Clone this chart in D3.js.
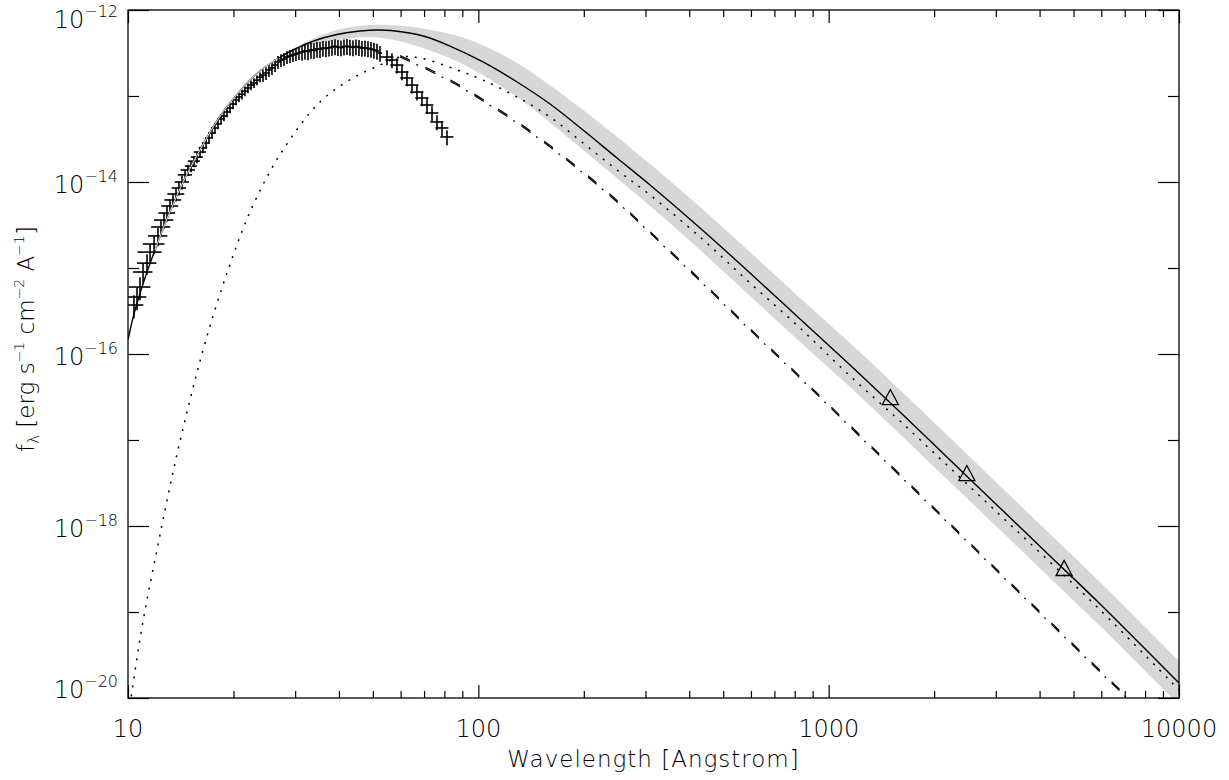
<!DOCTYPE html>
<html>
<head>
<meta charset="utf-8">
<script src="https://cdn.jsdelivr.net/npm/d3@7"></script>
<style>
body { margin: 0; background: #fff; }
svg text { font-family: "DejaVu Sans", sans-serif; font-weight: 200; fill: #000; }
</style>
</head>
<body>
<svg id="chart"></svg>
<script>
var screen = {width: 1229, height: 780}
var margins = {top: 10, right: 50, bottom: 82, left: 128}

// X-ray spectrum points (crosses): wavelength [A], flux, half bin width [A], relative error
var xrtWave = [10.40, 10.61, 10.82, 11.04, 11.33, 11.56, 11.87, 12.18, 12.42, 12.67, 12.92, 13.18, 13.44, 13.71, 13.98, 14.26, 14.55, 14.83, 15.13, 15.43, 15.74, 16.05,
    16.37, 16.70, 17.03, 17.37, 17.71, 18.07, 18.43, 18.79, 19.17, 19.55, 19.94, 20.34, 20.74, 21.15, 21.57, 22.00, 22.44, 22.89, 23.34, 23.81,
    24.28, 24.77, 25.26, 25.76, 26.28, 26.80, 27.33, 27.88, 28.43, 29.00, 29.58, 30.16, 30.76,
    31.38, 32.00, 32.64, 33.29, 33.95, 34.63, 35.32, 36.02, 36.74, 37.47, 38.22, 38.98, 39.75, 40.54, 41.35, 42.17, 43.01, 43.87, 44.74, 45.63, 46.54, 47.47, 48.42, 49.38, 50.36, 51.37, 52.39,
    54.86, 56.69, 58.59, 60.54, 62.57, 64.66, 66.82, 69.05, 71.36, 73.75, 76.21, 78.76, 81.39]
var xrtFlux = [3.71e-16, 4.60e-16, 6.01e-16, 8.98e-16, 1.14e-15, 1.53e-15, 1.90e-15, 2.36e-15, 3.00e-15, 3.61e-15, 4.36e-15, 5.26e-15, 6.18e-15, 7.25e-15, 8.52e-15, 1.00e-14, 1.21e-14, 1.38e-14, 1.53e-14, 1.75e-14, 1.95e-14, 2.23e-14,
    2.49e-14, 2.84e-14, 3.25e-14, 3.71e-14, 4.25e-14, 4.73e-14, 5.40e-14, 5.86e-14, 6.52e-14, 7.25e-14, 8.07e-14, 8.99e-14, 9.74e-14, 1.05e-13, 1.14e-13, 1.24e-13, 1.34e-13, 1.42e-13, 1.53e-13, 1.66e-13,
    1.75e-13, 1.85e-13, 2.01e-13, 2.12e-13, 2.29e-13, 2.49e-13, 2.62e-13, 2.69e-13, 2.84e-13, 2.92e-13, 3.00e-13, 3.08e-13, 3.16e-13,
    3.25e-13, 3.34e-13, 3.30e-13, 3.43e-13, 3.40e-13, 3.52e-13, 3.50e-13, 3.61e-13, 3.58e-13, 3.64e-13, 3.71e-13, 3.78e-13, 3.70e-13, 3.66e-13, 3.75e-13, 3.80e-13, 3.72e-13, 3.68e-13, 3.76e-13, 3.70e-13, 3.61e-13, 3.64e-13, 3.57e-13, 3.52e-13, 3.43e-13, 3.34e-13, 3.16e-13,
    2.84e-13, 2.62e-13, 2.29e-13, 1.90e-13, 1.62e-13, 1.34e-13, 1.11e-13, 9.48e-14, 7.86e-14, 6.34e-14, 4.99e-14, 4.25e-14, 3.34e-14]
var xrtWaveErr = [0.66, 0.67, 0.77, 0.70, 0.72, 0.91, 0.84, 0.77, 0.78, 0.80, 0.71, 0.73, 0.74, 0.76, 0.66, 0.67, 0.68, 0.70, 0.60, 0.61, 0.62, 0.64,
    0.45, 0.45, 0.45, 0.45, 0.45, 0.45, 0.45, 0.45, 0.45, 0.45, 0.45, 0.45, 0.45, 0.45, 0.45, 0.55, 0.55, 0.55, 0.55, 0.55,
    0.55, 0.55, 0.55, 0.55, 0.55, 0.55, 0.55, 0.55, 0.55, 0.55, 0.55, 0.55, 0.55,
    0.60, 0.60, 0.60, 0.60, 0.60, 0.60, 0.60, 0.60, 0.60, 0.60, 0.60, 0.60, 0.60, 0.75, 0.75, 0.75, 0.75, 0.75, 0.75, 0.75, 0.75, 0.75, 0.75, 0.75, 0.75, 0.75, 0.75,
    2.35, 2.40, 2.50, 2.60, 2.70, 2.80, 2.90, 3.00, 3.05, 3.15, 3.25, 3.35, 3.50]
var xrtRelErr = [0.30, 0.30, 0.30, 0.27, 0.27, 0.24, 0.24, 0.24, 0.21, 0.21, 0.21, 0.18, 0.18, 0.18, 0.18, 0.18, 0.15, 0.15, 0.15, 0.15, 0.15, 0.15,
    0.13, 0.13, 0.13, 0.13, 0.13, 0.13, 0.13, 0.13, 0.13, 0.13, 0.13, 0.13, 0.13, 0.13, 0.13, 0.13, 0.13, 0.13, 0.13, 0.13,
    0.17, 0.17, 0.17, 0.17, 0.17, 0.17, 0.17, 0.17, 0.17, 0.17, 0.17, 0.17, 0.17,
    0.21, 0.21, 0.21, 0.21, 0.21, 0.21, 0.21, 0.21, 0.21, 0.21, 0.21, 0.21, 0.21, 0.21, 0.21, 0.21, 0.21, 0.21, 0.21, 0.21, 0.21, 0.21, 0.21, 0.21, 0.21, 0.21, 0.21,
    0.20, 0.20, 0.20, 0.20, 0.20, 0.20, 0.20, 0.20, 0.20, 0.20, 0.20, 0.20, 0.20]

// UV photometry (triangles)
var uvWave = [1500, 2480, 4700]
var uvFlux = [3.16e-17, 4.13e-18, 3.25e-19]

// total model (solid line)
var modelWave = [10.00, 10.33, 10.68, 11.18, 11.94, 12.75, 13.62, 14.55, 15.53, 16.59, 17.71, 19.04, 20.61, 22.30, 23.97, 26.80, 29.97, 34.20, 39.49, 45.95,
    52.39, 60.95, 70.43, 83.01, 103.1, 129.0, 160.2, 199.0, 248.8, 309.1, 429.4, 596.4, 828.3, 1151, 1598, 2220, 3084, 4283, 5951, 10000]
var modelFlux = [1.46e-16, 2.62e-16, 4.25e-16, 7.65e-16, 1.62e-15, 3.25e-15, 6.18e-15, 1.11e-14, 1.85e-14, 3.00e-14, 4.73e-14, 7.25e-14, 1.08e-13, 1.53e-13, 2.01e-13, 2.73e-13, 3.52e-13, 4.42e-13, 5.19e-13, 5.70e-13,
    5.86e-13, 5.55e-13, 4.92e-13, 3.81e-13, 2.49e-13, 1.455e-13, 8.07e-14, 4.02e-14, 1.90e-14, 9.23e-15, 2.92e-15, 8.75e-16, 2.55e-16, 7.45e-17, 2.12e-17, 5.86e-18, 1.62e-18, 4.48e-19, 1.24e-19, 1.49e-20]

// uncertainty band of the model (grey)
var bandWave = [31.59, 39.49, 49.06, 60.95, 76.21, 94.68, 129.0, 199.0, 309.1, 429.4, 596.4, 828.3, 1151, 1598, 2220, 3084, 4283, 5951, 10000]
var bandHigh = [4.13e-13, 5.86e-13, 6.69e-13, 6.52e-13, 5.70e-13, 4.48e-13, 2.42e-13, 6.87e-14, 1.62e-14, 5.12e-15, 1.53e-15, 4.48e-16, 1.34e-16, 3.81e-17, 1.06e-17, 2.92e-18, 8.07e-19, 2.23e-19, 2.69e-20]
var bandLow = [3.71e-13, 4.48e-13, 4.85e-13, 4.25e-13, 3.16e-13, 2.12e-13, 9.74e-14, 2.36e-14, 5.26e-15, 1.62e-15, 4.73e-16, 1.38e-16, 4.13e-17, 1.17e-17, 3.25e-18, 8.98e-19, 2.49e-19, 6.87e-20, 8.29e-21]

// hot component (dotted)
var hotWave = [10.13, 10.75, 11.33, 12.34, 13.62, 15.03, 16.59, 19.30, 22.75, 27.69, 35.32, 43.87, 52.39, 59.75, 68.14, 86.95, 103.1, 129.0, 160.2, 199.0, 248.8, 309.1, 429.4, 596.4, 828.3, 1151, 1598, 2220, 3084, 4283, 5951, 10000]
var hotFlux = [8.29e-21, 4.13e-20, 1.38e-19, 7.86e-19, 5.40e-18, 2.92e-17, 1.34e-16, 9.48e-16, 5.40e-15, 2.36e-14, 8.52e-14, 1.62e-13, 2.29e-13, 2.84e-13, 2.77e-13, 2.01e-13, 1.53e-13, 9.74e-14, 5.70e-14, 2.84e-14, 1.38e-14, 7.06e-15, 2.29e-15, 6.69e-16, 2.01e-16, 5.55e-17, 1.66e-17, 4.73e-18, 1.34e-18, 3.81e-19, 1.06e-19, 1.24e-20]

// dash-dot and dashed components
var dashDotWave = [59.75, 72.78, 86.95, 103.1, 129.0, 160.2, 199.0, 248.8, 309.1, 429.4, 596.4, 828.3, 1151, 2220, 4283, 7107, 8265]
var dashDotFlux = [2.84e-13, 1.95e-13, 1.34e-13, 8.75e-14, 4.86e-14, 2.55e-14, 1.27e-14, 5.86e-15, 2.55e-15, 7.06e-16, 1.90e-16, 5.26e-17, 1.42e-17, 1.03e-18, 7.45e-20, 1.00e-20, 5.55e-21]
var dashedWave = [59.75, 72.78, 86.95, 103.1, 129.0, 160.2, 199.0, 248.8, 309.1, 429.4, 596.4, 828.3, 1151, 2220, 4283, 7107, 8265]
var dashedFlux = [2.95e-13, 2.03e-13, 1.39e-13, 9.10e-14, 5.05e-14, 2.65e-14, 1.32e-14, 6.10e-15, 2.65e-15, 7.35e-16, 1.98e-16, 5.47e-17, 1.48e-17, 1.07e-18, 7.75e-20, 1.04e-20, 5.77e-21]

// axis ticks
var xMajor = [10, 100, 1000, 10000]
var xLabels = ["10", "100", "1000", "10000"]
var yMajorExp = [-12, -14, -16, -18, -20]
var yMinorExp = [-13, -15, -17, -19]

var width = screen.width - margins.left - margins.right
var height = screen.height - margins.top - margins.bottom

var svg = d3.select("#chart")
    .attr("width", screen.width)
    .attr("height", screen.height)

var xScale = d3.scaleLog()
    .domain([10, 10000])
    .range([0, width])

var yScale = d3.scaleLog()
    .domain([1e-20, 1e-12])
    .range([height, 0])

var zip = function(xs, ys)
{
    return xs.map(function(x, i) { return [x, ys[i]] })
}

svg.append("defs")
    .append("clipPath")
    .attr("id", "plotClip")
    .append("rect")
    .attr("width", width)
    .attr("height", height)

var plot = svg.append("g")
    .attr("transform", "translate(" + margins.left + "," + margins.top + ")")

var marks = plot.append("g")
    .attr("clip-path", "url(#plotClip)")

var line = d3.line()
    .x(function(d) { return xScale(d[0]) })
    .y(function(d) { return yScale(d[1]) })
    .curve(d3.curveCatmullRom.alpha(0.5))

var area = d3.area()
    .x(function(d) { return xScale(d.w) })
    .y0(function(d) { return yScale(d.lo) })
    .y1(function(d) { return yScale(d.hi) })
    .curve(d3.curveCatmullRom.alpha(0.5))

// grey band
marks.append("path")
    .datum(bandWave.map(function(w, i) { return {w: w, lo: bandLow[i], hi: bandHigh[i]} }))
    .attr("d", area)
    .attr("fill", "#d7d7d7")

// model components
marks.append("path")
    .datum(zip(hotWave, hotFlux))
    .attr("d", line)
    .attr("fill", "none")
    .attr("stroke", "#000")
    .attr("stroke-width", 1.5)
    .attr("stroke-dasharray", "2,7")

marks.append("path")
    .datum(zip(dashDotWave, dashDotFlux))
    .attr("d", line)
    .attr("fill", "none")
    .attr("stroke", "#000")
    .attr("stroke-width", 1.2)
    .attr("stroke-dasharray", "11,7,2,8")

marks.append("path")
    .datum(zip(dashedWave, dashedFlux))
    .attr("d", line)
    .attr("fill", "none")
    .attr("stroke", "#000")
    .attr("stroke-width", 1.2)
    .attr("stroke-dasharray", "11,17")

marks.append("path")
    .datum(zip(modelWave, modelFlux))
    .attr("d", line)
    .attr("fill", "none")
    .attr("stroke", "#000")
    .attr("stroke-width", 1.4)

// crosses
var crosses = marks.selectAll("g.cross")
    .data(xrtWave.map(function(w, i) { return {w: w, f: xrtFlux[i], dw: xrtWaveErr[i], e: xrtRelErr[i]} }))
    .enter()
    .append("g")
    .attr("class", "cross")

crosses.append("line")
    .attr("x1", function(d) { return xScale(d.w - d.dw) })
    .attr("x2", function(d) { return xScale(d.w + d.dw) })
    .attr("y1", function(d) { return yScale(d.f) })
    .attr("y2", function(d) { return yScale(d.f) })
    .attr("stroke", "#000")
    .attr("stroke-width", 1.6)

crosses.append("line")
    .attr("x1", function(d) { return xScale(d.w) })
    .attr("x2", function(d) { return xScale(d.w) })
    .attr("y1", function(d) { return yScale(d.f * (1 - d.e)) })
    .attr("y2", function(d) { return yScale(d.f * (1 + d.e)) })
    .attr("stroke", "#000")
    .attr("stroke-width", 1.6)

// model drawn in light colour over the data points
marks.append("path")
    .datum(zip(modelWave, modelFlux).filter(function(d) { return d[0] >= 11.9 && d[0] <= 26.8 }))
    .attr("d", line)
    .attr("fill", "none")
    .attr("stroke", "#d0d0d0")
    .attr("stroke-width", 1.1)

// triangles
marks.selectAll("path.tri")
    .data(zip(uvWave, uvFlux))
    .enter()
    .append("path")
    .attr("class", "tri")
    .attr("d", function(d)
    {
        var cx = xScale(d[0]), cy = yScale(d[1])
        return "M" + (cx - 8) + "," + (cy + 7.5) + "L" + (cx + 8) + "," + (cy + 7.5) + "L" + cx + "," + (cy - 7.5) + "Z"
    })
    .attr("fill", "none")
    .attr("stroke", "#000")
    .attr("stroke-width", 1.3)

//
// AXES
//
var xMinor = xScale.ticks().filter(function(t) { return xMajor.indexOf(t) < 0 })
var yMajor = yMajorExp.map(function(e) { return Math.pow(10, e) })
var yMinor = yMinorExp.map(function(e) { return Math.pow(10, e) })

var addAxis = function(axis, tx, ty)
{
    var g = plot.append("g")
        .attr("transform", "translate(" + tx + "," + ty + ")")
        .call(axis)
    g.select(".domain").remove()
    g.selectAll("line").attr("stroke", "#000").attr("stroke-width", 1.2)
}

addAxis(d3.axisBottom(xScale).tickValues(xMajor).tickSize(-13).tickFormat(""), 0, height)
addAxis(d3.axisBottom(xScale).tickValues(xMinor).tickSize(-7).tickFormat(""), 0, height)
addAxis(d3.axisTop(xScale).tickValues(xMajor).tickSize(-13).tickFormat(""), 0, 0)
addAxis(d3.axisTop(xScale).tickValues(xMinor).tickSize(-7).tickFormat(""), 0, 0)
addAxis(d3.axisLeft(yScale).tickValues(yMajor).tickSize(-21).tickFormat(""), 0, 0)
addAxis(d3.axisLeft(yScale).tickValues(yMinor).tickSize(-11).tickFormat(""), 0, 0)
addAxis(d3.axisRight(yScale).tickValues(yMajor).tickSize(-21).tickFormat(""), width, 0)
addAxis(d3.axisRight(yScale).tickValues(yMinor).tickSize(-11).tickFormat(""), width, 0)

plot.append("rect")
    .attr("width", width)
    .attr("height", height)
    .attr("fill", "none")
    .attr("stroke", "#000")
    .attr("stroke-width", 1.3)

// x labels
plot.selectAll("text.xlab")
    .data(xMajor)
    .enter()
    .append("text")
    .attr("class", "xlab")
    .attr("x", function(d) { return xScale(d) })
    .attr("y", height + 39)
    .attr("text-anchor", "middle")
    .attr("font-size", 24)
    .text(function(d, i) { return xLabels[i] })

// y labels: 10 with superscript exponent
var ylab = plot.selectAll("text.ylab")
    .data(yMajorExp)
    .enter()
    .append("text")
    .attr("class", "ylab")
    .attr("x", -10)
    .attr("y", function(d)
    {
        var y = yScale(Math.pow(10, d)) + 11
        return Math.max(18, Math.min(height, y))
    })
    .attr("text-anchor", "end")
    .attr("font-size", 24)

ylab.append("tspan").text("10")
ylab.append("tspan")
    .attr("font-size", 16)
    .attr("dy", -11)
    .text(function(d) { return "\u2212" + Math.abs(d) })

// axis titles
svg.append("text")
    .attr("x", margins.left + width / 2)
    .attr("y", 767)
    .attr("text-anchor", "middle")
    .attr("font-size", 23)
    .attr("letter-spacing", 1)
    .text("Wavelength [Angstrom]")

var ytitle = svg.append("text")
    .attr("transform", "translate(34,339) rotate(-90)")
    .attr("text-anchor", "middle")
    .attr("font-size", 23)

ytitle.append("tspan").text("f")
ytitle.append("tspan").attr("font-size", 15).attr("dy", 5).text("\u03bb")
ytitle.append("tspan").attr("dy", -5).text(" [erg s")
ytitle.append("tspan").attr("font-size", 14).attr("dy", -10).text("\u22121")
ytitle.append("tspan").attr("dy", 10).text(" cm")
ytitle.append("tspan").attr("font-size", 14).attr("dy", -10).text("\u22122")
ytitle.append("tspan").attr("dy", 10).text(" A")
ytitle.append("tspan").attr("font-size", 14).attr("dy", -10).text("\u22121")
ytitle.append("tspan").attr("dy", 10).text("]")
</script>
</body>
</html>
